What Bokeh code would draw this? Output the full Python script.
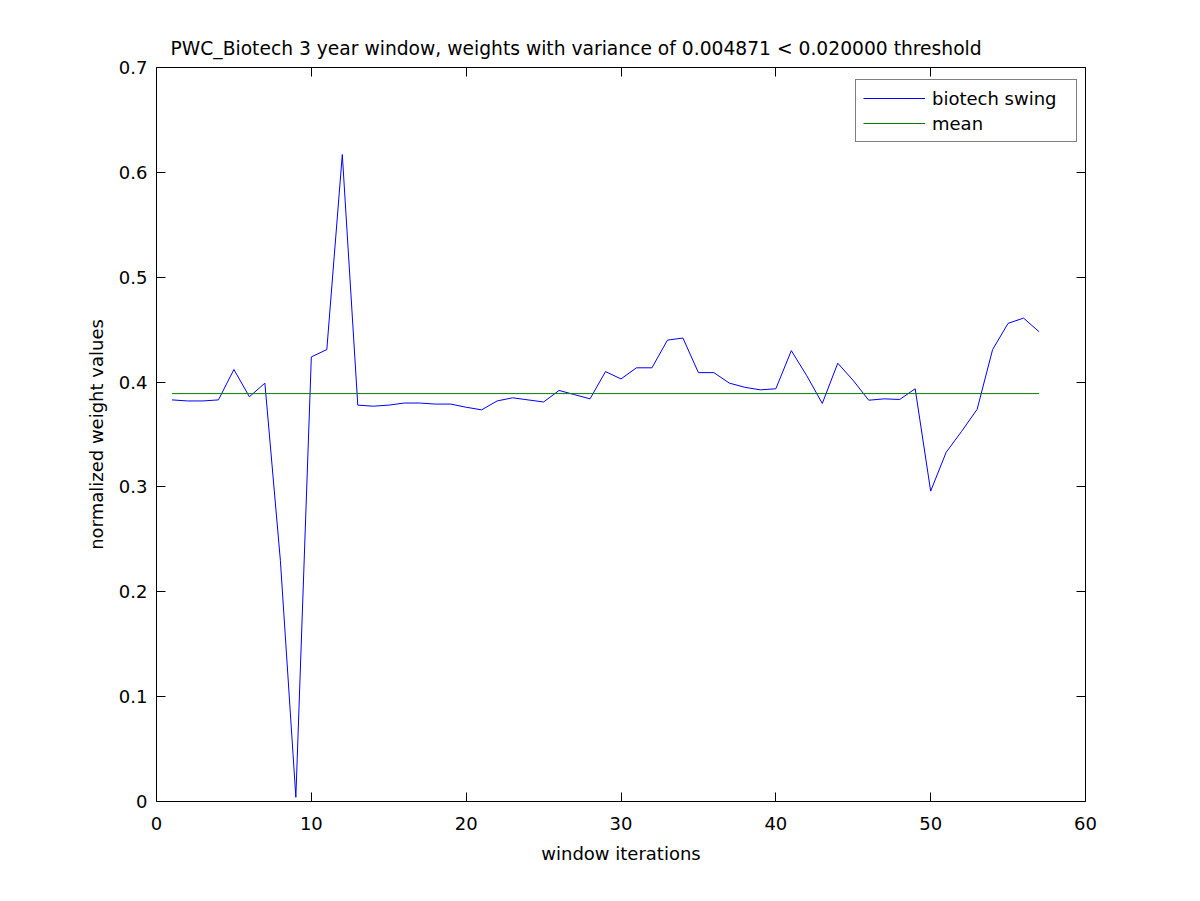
from bokeh.plotting import figure
from bokeh.models import Range1d, LinearAxis, FixedTicker, Legend, LegendItem
from bokeh.embed import file_html
from bokeh.resources import INLINE

# ---- data ----
iterations = list(range(1, 58))
biotech_swing = [
    0.383, 0.382, 0.382, 0.383, 0.412, 0.386, 0.399, 0.230, 0.004, 0.424,
    0.431, 0.617, 0.378, 0.377, 0.378, 0.380, 0.380, 0.379, 0.379, 0.376,
    0.3735, 0.382, 0.385, 0.383, 0.381, 0.392, 0.388, 0.384, 0.410, 0.403,
    0.4136, 0.4136, 0.440, 0.442, 0.409, 0.409, 0.399, 0.395, 0.3926, 0.3936,
    0.430, 0.406, 0.3796, 0.418, 0.4015, 0.3827, 0.384, 0.3834, 0.3936, 0.296,
    0.333, 0.353, 0.374, 0.431, 0.456, 0.461, 0.448,
]
mean_value = 0.389
mean_x = [iterations[0], iterations[-1]]
mean_y = [mean_value, mean_value]

x_ticks = [0, 10, 20, 30, 40, 50, 60]
y_ticks = [0, 0.1, 0.2, 0.3, 0.4, 0.5, 0.6, 0.7]
y_tick_labels = ["0", "0.1", "0.2", "0.3", "0.4", "0.5", "0.6", "0.7"]

title_text = "PWC_Biotech 3 year window, weights with variance of 0.004871 < 0.020000 threshold"
FONT = "DejaVu Sans"
FS = "18px"

p = figure(width=1184, height=885, output_backend="svg", toolbar_location=None,
           x_range=Range1d(0, 60), y_range=Range1d(0, 0.7),
           min_border_left=156, min_border_right=99,
           min_border_top=67, min_border_bottom=84,
           title=title_text)
p.background_fill_color = "white"
p.border_fill_color = "white"
p.outline_line_color = None
p.xgrid.grid_line_color = None
p.ygrid.grid_line_color = None

p.title.text_font = FONT
p.title.text_font_size = "18.7px"
p.title.text_font_style = "normal"
p.title.text_color = "black"
p.title.align = "left"
p.title.offset = 14
p.title.standoff = 18

def style_axis(ax, show_labels):
    ax.axis_line_color = "black"
    ax.axis_line_width = 1
    ax.major_tick_in = 9
    ax.major_tick_out = 0
    ax.minor_tick_line_color = None
    ax.major_tick_line_color = "black"
    ax.major_label_text_font = FONT
    ax.major_label_text_font_size = FS if show_labels else "0px"
    ax.major_label_text_color = "black"
    ax.axis_label_text_font = FONT
    ax.axis_label_text_font_size = FS
    ax.axis_label_text_font_style = "normal"
    ax.axis_label_text_color = "black"

xax = p.xaxis[0]
yax = p.yaxis[0]
xax.ticker = FixedTicker(ticks=x_ticks)
yax.ticker = FixedTicker(ticks=y_ticks)
yax.major_label_overrides = {t: l for t, l in zip(y_ticks, y_tick_labels)}
style_axis(xax, True)
style_axis(yax, True)
xax.axis_label = "window iterations"
yax.axis_label = "normalized weight values"
xax.major_label_standoff = 15
yax.major_label_standoff = 9
xax.axis_label_standoff = 10
yax.axis_label_standoff = 9

top_ax = LinearAxis(ticker=FixedTicker(ticks=x_ticks))
right_ax = LinearAxis(ticker=FixedTicker(ticks=y_ticks))
for ax, ticks in ((top_ax, x_ticks), (right_ax, y_ticks)):
    style_axis(ax, False)
    ax.major_label_overrides = {t: "" for t in ticks}
    ax.major_label_standoff = 0
p.add_layout(top_ax, "above")
p.add_layout(right_ax, "right")

r_swing = p.line(iterations, biotech_swing, line_color="#0000ff", line_width=1)
r_mean = p.line(mean_x, mean_y, line_color="#007f00", line_width=1)

legend = Legend(items=[LegendItem(label="biotech swing", renderers=[r_swing]),
                       LegendItem(label="mean", renderers=[r_mean])])
legend.location = (699, 659)
legend.margin = 0
legend.border_line_color = "black"
legend.border_line_width = 1
legend.background_fill_color = "white"
legend.background_fill_alpha = 1
legend.label_text_font = FONT
legend.label_text_font_size = FS
legend.label_text_color = "black"
legend.glyph_width = 62
legend.glyph_height = 22
legend.label_height = 22
legend.label_width = 137
legend.label_standoff = 7
legend.spacing = 3
legend.padding = 7
p.add_layout(legend, "center")

open("out.html", "w").write(file_html(p, INLINE))
